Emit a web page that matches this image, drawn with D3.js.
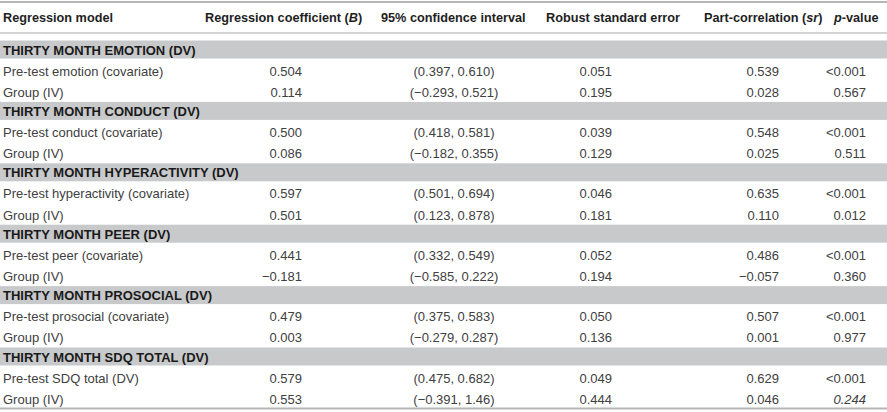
<!DOCTYPE html>
<html><head><meta charset="utf-8">
<script src="https://cdn.jsdelivr.net/npm/d3@7"></script>
<style>
html,body{margin:0;padding:0;background:#fff;}
svg{display:block;font-family:"Liberation Sans",Arial,sans-serif;}
</style></head>
<body><svg id="t" width="887" height="412"></svg>
<script>
const sections = ["THIRTY MONTH EMOTION (DV)","THIRTY MONTH CONDUCT (DV)","THIRTY MONTH HYPERACTIVITY (DV)","THIRTY MONTH PEER (DV)","THIRTY MONTH PROSOCIAL (DV)","THIRTY MONTH SDQ TOTAL (DV)"];
const predictors = [["Pre-test emotion (covariate)","Group (IV)"],["Pre-test conduct (covariate)","Group (IV)"],["Pre-test hyperactivity (covariate)","Group (IV)"],["Pre-test peer (covariate)","Group (IV)"],["Pre-test prosocial (covariate)","Group (IV)"],["Pre-test SDQ total (DV)","Group (IV)"]];
const coefB = [[0.504,0.114],[0.500,0.086],[0.597,0.501],[0.441,-0.181],[0.479,0.003],[0.579,0.553]];
const ciLow = [["0.397","−0.293"],["0.418","−0.182"],["0.501","0.123"],["0.332","−0.585"],["0.375","−0.279"],["0.475","−0.391"]];
const ciHigh = [["0.610","0.521"],["0.581","0.355"],["0.694","0.878"],["0.549","0.222"],["0.583","0.287"],["0.682","1.46"]];
const robustSE = [[0.051,0.195],[0.039,0.129],[0.046,0.181],[0.052,0.194],[0.050,0.136],[0.049,0.444]];
const partCorr = [[0.539,0.028],[0.548,0.025],[0.635,0.110],[0.486,-0.057],[0.507,0.001],[0.629,0.046]];
const pValues = [["<0.001","0.567"],["<0.001","0.511"],["<0.001","0.012"],["<0.001","0.360"],["<0.001","0.977"],["<0.001","0.244"]];
const italicP = [[false,false],[false,false],[false,false],[false,false],[false,false],[false,true]];

const fmt = d3.format(".3f");
const svg = d3.select("#t");
const textCol = "#404040";

const secScale = d3.scaleLinear().domain([0, sections.length]).range([40.5, 40.5 + 61.4*sections.length]);
const bandH = 18, rowH = 21.2;

svg.append("line").attr("x1",0).attr("x2",887).attr("y1",2).attr("y2",2).attr("stroke","#b5b6b8").attr("stroke-width",2);
svg.append("line").attr("x1",0).attr("x2",887).attr("y1",33).attr("y2",33).attr("stroke","#c3c4c6").attr("stroke-width",1.5);
const bottomY = secScale(sections.length) - 0.5;
svg.append("line").attr("x1",0).attr("x2",887).attr("y1",bottomY).attr("y2",bottomY).attr("stroke","#b5b6b8").attr("stroke-width",2);

const hdr = svg.append("g").attr("font-weight","bold").attr("font-size",12.7).attr("fill","#1e1e1e");
const headers = [
  {x:3, parts:[["Regression model",false]]},
  {x:205, parts:[["Regression coefficient (",false],["B",true],[")",false]]},
  {x:381, parts:[["95% confidence interval",false]]},
  {x:546, parts:[["Robust standard error",false]]},
  {x:704, parts:[["Part-correlation (",false],["sr",true],[")",false]]},
  {x:834, parts:[["p",true],["-value",false]]}
];
headers.forEach(h=>{
  const t = hdr.append("text").attr("x",h.x).attr("y",21.5);
  h.parts.forEach(p=>t.append("tspan").text(p[0]).attr("font-style",p[1]?"italic":null));
});

const g = svg.append("g").attr("font-size",13);
sections.forEach((s,i)=>{
  const top = secScale(i);
  g.append("rect").attr("x",0).attr("width",887).attr("y",top).attr("height",bandH).attr("fill","#c8c9cb");
  g.append("text").attr("x",3).attr("y",top+14).attr("font-weight","bold").attr("fill","#1a1a1a").text(s);
  predictors[i].forEach((lab,j)=>{
    const y = top + bandH + rowH*j + 17;
    g.append("text").attr("x",3).attr("y",y).attr("fill",textCol).text(lab);
    g.append("text").attr("x",302).attr("y",y).attr("text-anchor","end").attr("fill",textCol).text(fmt(coefB[i][j]));
    g.append("text").attr("x",454).attr("y",y).attr("text-anchor","middle").attr("fill",textCol).text("(" + ciLow[i][j] + ", " + ciHigh[i][j] + ")");
    g.append("text").attr("x",612).attr("y",y).attr("text-anchor","end").attr("fill",textCol).text(fmt(robustSE[i][j]));
    g.append("text").attr("x",779).attr("y",y).attr("text-anchor","end").attr("fill",textCol).text(fmt(partCorr[i][j]));
    g.append("text").attr("x",866).attr("y",y).attr("text-anchor","end").attr("fill",textCol)
      .attr("font-style",italicP[i][j]?"italic":null).text(pValues[i][j]);
  });
});
</script></body></html>
